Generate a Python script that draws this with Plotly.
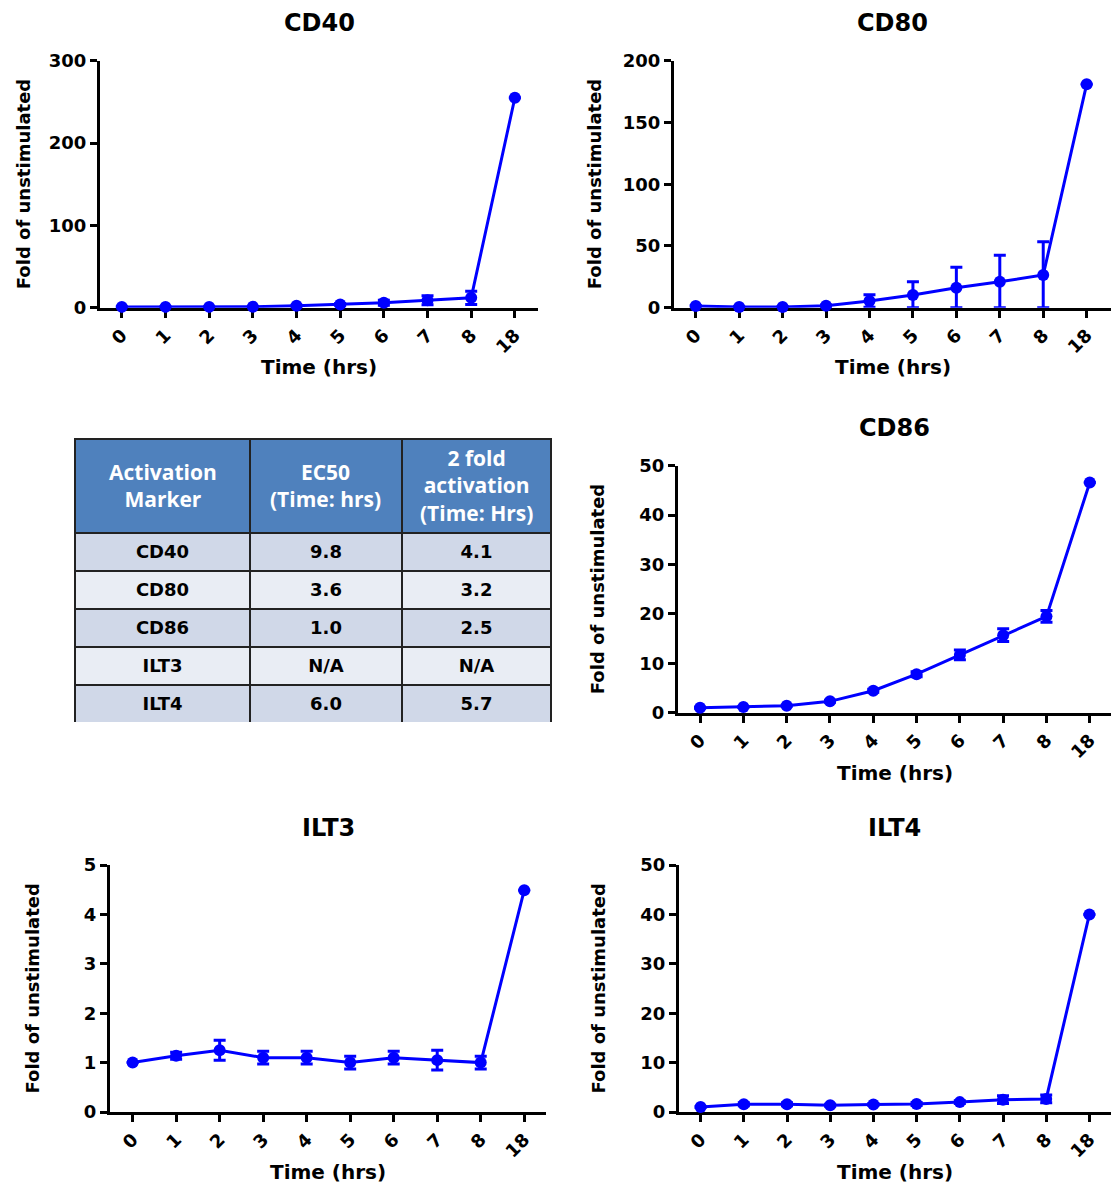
import plotly.graph_objects as go

# ---------------- data ----------------
hours = ["0", "1", "2", "3", "4", "5", "6", "7", "8", "18"]

cd40_mean = [1.0, 1.0, 1.0, 1.2, 2.4, 4.0, 6.0, 9.0, 12.0, 255.0]
cd40_err = [0.3, 0.3, 0.3, 0.3, 0.6, 1.0, 3.0, 5.5, 8.0, 0.0]

cd80_mean = [1.4, 0.6, 0.6, 1.6, 5.4, 10.3, 16.2, 21.0, 26.5, 181.0]
cd80_err = [0.3, 0.3, 0.3, 0.5, 5.0, 10.7, 16.5, 21.5, 27.0, 0.0]

cd86_mean = [1.0, 1.15, 1.4, 2.3, 4.45, 7.8, 11.7, 15.7, 19.5, 46.6]
cd86_err = [0.1, 0.1, 0.1, 0.2, 0.3, 0.5, 1.0, 1.3, 1.2, 0.0]

ilt3_mean = [1.0, 1.14, 1.25, 1.10, 1.10, 1.0, 1.10, 1.05, 1.0, 4.49]
ilt3_err = [0.0, 0.07, 0.2, 0.13, 0.13, 0.13, 0.13, 0.2, 0.13, 0.0]

ilt4_mean = [1.0, 1.55, 1.55, 1.35, 1.5, 1.6, 2.0, 2.5, 2.65, 40.0]
ilt4_err = [0.1, 0.3, 0.3, 0.2, 0.2, 0.3, 0.3, 0.8, 0.8, 0.0]

panel_titles = ["CD40", "CD80", "CD86", "ILT3", "ILT4"]
y_maxes = [300, 200, 50, 5, 50]
y_dticks = [100, 50, 10, 1, 10]

table_header = ["Activation<br>Marker", "EC50<br>(Time: hrs)", "2 fold<br>activation<br>(Time: Hrs)"]
table_marker = ["CD40", "CD80", "CD86", "ILT3", "ILT4"]
table_ec50 = ["9.8", "3.6", "1.0", "N/A", "6.0"]
table_twofold = ["4.1", "3.2", "2.5", "N/A", "5.7"]

# ---------------- layout helpers ----------------
W, H = 1111, 1186
BLUE = "#0000FF"

def px(x):
    return x / W

def py(y):
    return 1 - y / H

# pixel boxes: (left, right, top, bottom), title y, xlabel y, ylabel x
panels = [
    dict(box=(100, 538, 60.7, 307.7), ty=23, xly=367, ylx=23, rng=(-0.5, 9.53)),
    dict(box=(674, 1111, 60.7, 307.7), ty=23, xly=367, ylx=594, rng=(-0.5, 9.56)),
    dict(box=(678, 1111, 465.7, 712.7), ty=428, xly=773, ylx=597, rng=(-0.51, 9.49)),
    dict(box=(110, 546, 865, 1112), ty=828, xly=1172, ylx=32, rng=(-0.52, 9.5)),
    dict(box=(679, 1111, 865, 1112), ty=828, xly=1172, ylx=598, rng=(-0.5, 9.5)),
]

means = [cd40_mean, cd80_mean, cd86_mean, ilt3_mean, ilt4_mean]
errs = [cd40_err, cd80_err, cd86_err, ilt3_err, ilt4_err]

fig = go.Figure()
annotations = []
bold = dict(family="DejaVu Sans", weight="bold", color="black")

for i, p in enumerate(panels):
    n = "" if i == 0 else str(i + 1)
    l, r, t, b = p["box"]
    minus = [min(e, m) for e, m in zip(errs[i], means[i])]
    fig.add_trace(go.Scatter(
        x=hours, y=means[i], mode="lines+markers",
        xaxis="x" + n, yaxis="y" + n,
        line=dict(color=BLUE, width=3),
        marker=dict(color=BLUE, size=12, symbol="circle"),
        error_y=dict(type="data", array=errs[i], arrayminus=minus, symmetric=False,
                     color=BLUE, thickness=3, width=6),
        cliponaxis=False, showlegend=False,
    ))
    common = dict(showline=True, linecolor="black", linewidth=3, ticks="outside",
                  tickcolor="black", tickwidth=3, ticklen=7, showgrid=False,
                  zeroline=False, layer="below traces", automargin=False,
                  tickfont=dict(size=18, **bold))
    fig.update_layout(**{
        "xaxis" + n: dict(domain=[px(l), px(r)], anchor="y" + n, type="category",
                          range=list(p["rng"]), tickangle=-45, **common),
        "yaxis" + n: dict(domain=[py(b), py(t)], anchor="x" + n,
                          range=[0, y_maxes[i]], dtick=y_dticks[i], **common),
    })
    cx = (l + r) / 2
    annotations.append(dict(text=panel_titles[i], x=px(cx), y=py(p["ty"]), xref="paper", yref="paper",
                            showarrow=False, xanchor="center", yanchor="middle",
                            font=dict(size=24, **bold)))
    annotations.append(dict(text="Time (hrs)", x=px(cx), y=py(p["xly"]), xref="paper", yref="paper",
                            showarrow=False, xanchor="center", yanchor="middle",
                            font=dict(size=20, **bold)))
    annotations.append(dict(text="Fold of unstimulated", x=px(p["ylx"]), y=py((t + b) / 2),
                            xref="paper", yref="paper", textangle=-90,
                            showarrow=False, xanchor="center", yanchor="middle",
                            font=dict(size=18, **bold)))

# ---------------- table ----------------
tbl_left, tbl_right, tbl_top, tbl_bottom = 75, 551, 439, 723
col_w = [175, 152, 149]
header_h = 94
row_fill = ["#D0D8E8" if k % 2 == 0 else "#E9EDF4" for k in range(len(table_marker))]
fig.add_trace(go.Table(
    domain=dict(x=[px(tbl_left), px(tbl_right)], y=[py(tbl_bottom), py(tbl_top)]),
    columnwidth=col_w,
    header=dict(values=["", "", ""],
                fill_color="#4F81BD", line=dict(color="#222222", width=1.5),
                align="center", height=header_h,
                font=dict(family="DejaVu Sans", weight="bold", size=18, color="white")),
    cells=dict(values=[["<b>%s</b>" % v for v in col] for col in (table_marker, table_ec50, table_twofold)],
               fill_color=[row_fill] * 3, line=dict(color="#222222", width=1.5),
               align="center", height=38,
               font=dict(family="DejaVu Sans", weight="bold", size=18, color="black")),
))
# header labels centred in their header cells (centred line by line)
scale = (tbl_right - tbl_left) / sum(col_w)
x0 = tbl_left
for label, w in zip(table_header, col_w):
    cxh = x0 + w * scale / 2
    x0 += w * scale
    annotations.append(dict(text="<b>%s</b>" % label, x=px(cxh), y=py(tbl_top + header_h / 2),
                            xref="paper", yref="paper", showarrow=False,
                            xanchor="center", yanchor="middle", align="center",
                            font=dict(family="Open Sans", weight="bold", size=21, color="white")))

fig.update_layout(width=W, height=H, autosize=False,
                  margin=dict(l=0, r=0, t=0, b=0, pad=0, autoexpand=False),
                  paper_bgcolor="white", plot_bgcolor="white",
                  annotations=annotations, showlegend=False)

post = ("document.documentElement.style.margin='0';document.body.style.margin='0';"
        "document.body.style.padding='0';document.body.style.overflow='hidden';"
        "var g=document.getElementById('{plot_id}');g.style.position='absolute';"
        "g.style.left='0px';g.style.top='0px';")

fig.write_html("out.html", post_script=post, config={"displayModeBar": False})
